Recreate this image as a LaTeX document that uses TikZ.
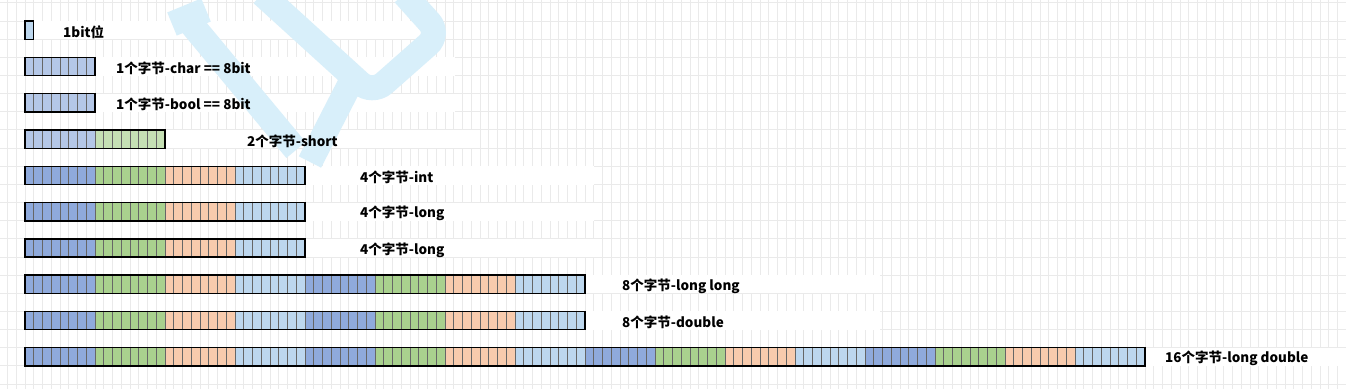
\documentclass[tikz,border=0pt]{standalone}
\usepackage{fontspec}
\setmainfont{Noto Sans CJK SC}
\usepackage{tikz}

\definecolor{bitsky}{HTML}{BDD7EE}
\definecolor{bitlav}{HTML}{B4C7E7}
\definecolor{bitmint}{HTML}{C5E0B4}
\definecolor{bitblue}{HTML}{8FAADC}
\definecolor{bitgreen}{HTML}{A9D18E}
\definecolor{bitpeach}{HTML}{F8CBAD}
\definecolor{gridgray}{HTML}{EAEAEA}
\definecolor{markblue}{HTML}{D8EFFA}

% one row of bytes: #1 top of the row, #2 length, #3 colours of the bytes
\newcommand{\bitrow}[3]{%
  \foreach \c [count=\i from 0] in {#3} {
    \fill[\c] ({25+70*\i},#1) rectangle ++(70,18.3);
    \foreach \k in {0,...,7}
      \draw[bitline] ({25+70*\i+8.75*\k},#1) -- ++(0,18.3);
  }
  \draw[barframe] (25,#1) rectangle ++(#2,18.3);
}

\begin{document}
\begin{tikzpicture}[x=1pt, y=-1pt,
    gridline/.style={gridgray, line width=0.9pt},
    bitline/.style={black!60, line width=0.8pt},
    barframe/.style={black, line width=1.4pt},
    band/.style={white},
    lbl/.style={anchor=west, inner sep=0pt, font=\fontsize{13.5}{15}\selectfont\bfseries}]

    \useasboundingbox (0,0) rectangle (1346,389);
    \fill[white] (0,0) rectangle (1346,389);

    % background grid
    \foreach \k in {-2,...,150}
      \draw[gridline] ({25+8.75*\k},0) -- ++(0,389);
    \foreach \k in {0,...,21}
      \draw[gridline] (0,{2.85+18.15*\k}) -- ++(1346,0);

    % white strips behind the labels
    \fill[band] (34,21) rectangle (420,39.3);
    \fill[band] (95,57.3) rectangle (455,75.6);
    \fill[band] (95,93.6) rectangle (455,111.9);
    \fill[band] (165,129.9) rectangle (480,148.2);
    \fill[band] (305,166.2) rectangle (594,184.5);
    \fill[band] (305,202.5) rectangle (594,220.8);
    \fill[band] (305,238.8) rectangle (594,257.1);
    \fill[band] (585,275.1) rectangle (880,293.4);
    \fill[band] (585,311.4) rectangle (880,329.7);
    \fill[band] (1144,347.7) rectangle (1346,366);

    % watermark
    \begin{scope}[markblue, line width=25pt]
      \draw (188,20) -- (296,150);
      \draw (172,24) -- (206,10);
      \draw[rounded corners=16pt] (262,-6) -- (372,94) -- (440,34) -- (404,-6);
      \draw (352,80) -- (310,162);
    \end{scope}

    % 1 bit
    \fill[bitsky] (25,21) rectangle ++(8.75,18.3);
    \draw[barframe] (25,21) rectangle ++(8.75,18.3);
    \node[lbl] (lbit) at (63,32) {1bit位};

    % 1 byte
    \bitrow{57.3}{70}{bitlav}
    \node[lbl] (lchar) at (116,68.3) {1个字节-char == 8bit};

    \bitrow{93.6}{70}{bitlav}
    \node[lbl] (lbool) at (116,104.6) {1个字节-bool == 8bit};

    % 2 bytes
    \bitrow{129.9}{140}{bitlav,bitmint}
    \node[lbl] (lshort) at (247,140.9) {2个字节-short};

    % 4 bytes
    \bitrow{166.2}{280}{bitblue,bitgreen,bitpeach,bitsky}
    \node[lbl] (lint) at (360,177.2) {4个字节-int};

    \bitrow{202.5}{280}{bitblue,bitgreen,bitpeach,bitsky}
    \node[lbl] (llong) at (360,213.5) {4个字节-long};

    \bitrow{238.8}{280}{bitblue,bitgreen,bitpeach,bitsky}
    \node[lbl] (llongb) at (360,249.8) {4个字节-long};

    % 8 bytes
    \bitrow{275.1}{560}{bitblue,bitgreen,bitpeach,bitsky,bitblue,bitgreen,bitpeach,bitsky}
    \node[lbl] (lll) at (622,286.1) {8个字节-long long};

    \bitrow{311.4}{560}{bitblue,bitgreen,bitpeach,bitsky,bitblue,bitgreen,bitpeach,bitsky}
    \node[lbl] (ldouble) at (622,322.4) {8个字节-double};

    % 16 bytes
    \bitrow{347.7}{1120}{bitblue,bitgreen,bitpeach,bitsky,bitblue,bitgreen,bitpeach,bitsky,bitblue,bitgreen,bitpeach,bitsky,bitblue,bitgreen,bitpeach,bitsky}
    \node[lbl] (lld) at (1165,358.7) {16个字节-long double};
\end{tikzpicture}
\end{document}
